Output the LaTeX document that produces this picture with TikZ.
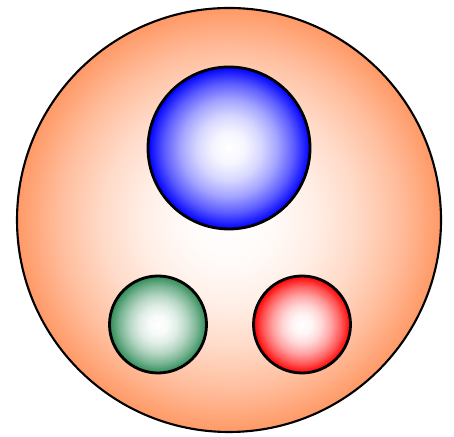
\documentclass[tikz,border=0pt]{standalone}
\usepackage{tikz}
\definecolor{peach}{HTML}{FF9966}
\definecolor{seaGreen}{HTML}{2E8B57}
\colorlet{ballColor}{blue}
% white core, colour growing quadratically towards the rim
\pgfdeclareradialshading[ballColor]{softball}{\pgfpointorigin}{%
  color(0bp)=(white); color(5bp)=(ballColor!4!white);
  color(10bp)=(ballColor!16!white); color(15bp)=(ballColor!36!white);
  color(20bp)=(ballColor!64!white); color(25bp)=(ballColor);
  color(50bp)=(ballColor)}

\begin{document}
\begin{tikzpicture}[every node/.style={circle, draw, inner sep=0pt, outer sep=0pt},
    ball/.style={thick, /utils/exec={\colorlet{ballColor}{#1}}, shading=softball}]
  \useasboundingbox (0,0) rectangle (4.54,4.37);
  % proton and its three quarks
  \node[ball=peach, semithick, minimum size=4.24cm] (proton) at (2.29,2.17) {};
  \node[ball=blue, minimum size=1.62cm] (quarkB) at (2.29,2.89) {};
  \node[ball=seaGreen, minimum size=0.97cm] (quarkG) at (1.58,1.125) {};
  \node[ball=red, minimum size=0.97cm] (quarkR) at (3.02,1.125) {};
\end{tikzpicture}
\end{document}
